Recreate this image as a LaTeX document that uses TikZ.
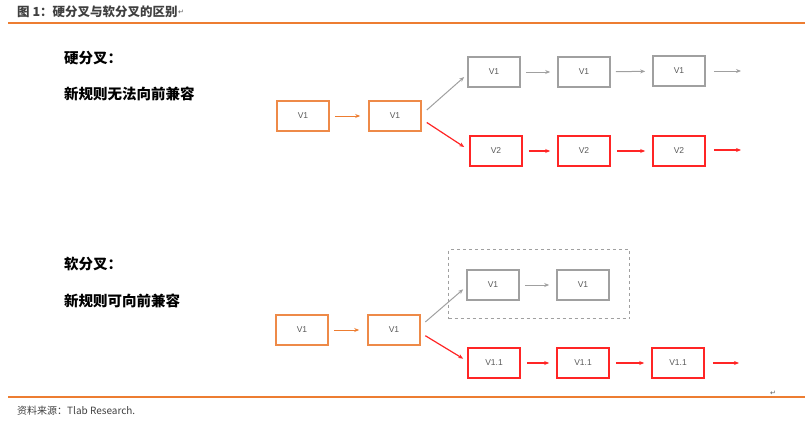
\documentclass[tikz,border=0pt]{standalone}
\usepackage{fontspec}
\setmainfont{Liberation Sans}
\newfontfamily\cjk{Noto Sans CJK SC}
\newfontfamily\symf{DejaVu Sans}
\usetikzlibrary{arrows.meta,calc}
\definecolor{orng}{HTML}{ED7D31}
\definecolor{boxorng}{HTML}{EE8A48}
\definecolor{redc}{HTML}{FF2525}
\definecolor{greyc}{HTML}{A0A0A0}
\definecolor{txt}{HTML}{595959}
\definecolor{ttl}{HTML}{404040}
\begin{document}
\begin{tikzpicture}[x=1pt,y=-1pt,
  vbox/.style={draw, line width=1.6pt, minimum width=52pt, minimum height=30pt, inner sep=0pt,
    font=\fontsize{8.5}{10}\selectfont, text=txt},
  obox/.style={vbox, draw=boxorng},
  gbox/.style={vbox, draw=greyc},
  rbox/.style={vbox, draw=redc},
  dashbox/.style={draw=greyc, dashed, line width=1pt, minimum width=181pt, minimum height=69pt, inner sep=0pt},
  oarr/.style={draw=orng, line width=1pt, -{Stealth[length=5pt,width=4pt]}, shorten <=5pt, shorten >=8pt},
  garr/.style={draw=greyc, line width=1pt, -{Stealth[length=5pt,width=4pt]}, shorten <=5pt, shorten >=7pt},
  rarr/.style={draw=redc, line width=1.2pt, -{Stealth[length=5pt,width=4pt]}, shorten <=6pt, shorten >=7pt},
  gdiag/.style={draw=greyc, line width=1pt, -{Stealth[length=5pt,width=4pt]}},
  rdiag/.style={draw=redc, line width=1.2pt, -{Stealth[length=5pt,width=4pt]}},
  head/.style={anchor=west, inner sep=0pt, font=\cjk\bfseries\fontsize{14.5}{16}\selectfont, text=black},
  rule/.style={draw=orng, line width=1.2pt},
  pmark/.style={inner sep=0pt, font=\symf\fontsize{7}{8}\selectfont, text=txt}
]
\useasboundingbox (0,0) rectangle (809,423);
% title and rules
\node[anchor=west, inner sep=0pt, font=\cjk\bfseries\fontsize{12.5}{14}\selectfont, text=ttl] (title) at (17,12) {图 1：硬分叉与软分叉的区别};
\node[pmark, anchor=west] (titlemark) at (title.east) {↵};
\coordinate (rl1) at (8,23);
\coordinate (rr1) at (805,23);
\draw[rule] (rl1) -- (rr1);
\coordinate (rl2) at (8,397);
\coordinate (rr2) at (805,397);
\draw[rule] (rl2) -- (rr2);
\node[pmark] (footmark) at (773,393) {↵};
\node[anchor=west, inner sep=0pt, font=\cjk\fontsize{10}{12}\selectfont, text=ttl] (foot) at (17,411) {资料来源：Tlab Research.};

% ---------- hard fork ----------
\node[head] (h1) at (64,58) {硬分叉：};
\node[head] (h2) at (64,93.5) {新规则无法向前兼容};

\node[obox] (oa) at (303,116) {V1};
\node[obox] (ob) at (395,116) {V1};
\node[gbox] (g1) at (494,72) {V1};
\node[gbox] (g2) at (584,72) {V1};
\node[gbox] (g3) at (679,71) {V1};
\coordinate (gend) at (741,71);
\node[rbox] (r1) at (496,151) {V2};
\node[rbox] (r2) at (584,151) {V2};
\node[rbox] (r3) at (679,151) {V2};
\coordinate (rend) at (741,150);

\draw[oarr] (oa) -- (ob);
\draw[gdiag] ($(ob.east)+(5,-6)$) -- ($(g1.west)+(-3,5)$);
\draw[rdiag] ($(ob.east)+(5,6.5)$) -- ($(r1.west)+(-5,-4)$);
\draw[garr] (g1) -- (g2);
\draw[garr] (g2) -- (g3);
\draw[garr, shorten >=0pt, shorten <=8pt] (g3.east) -- (gend);
\draw[rarr] (r1) -- (r2);
\draw[rarr] (r2) -- (r3);
\draw[rarr, shorten >=0pt, shorten <=8pt] (r3.east |- rend) -- (rend);

% ---------- soft fork ----------
\node[head] (s1) at (64,264.5) {软分叉：};
\node[head] (s2) at (64,301) {新规则可向前兼容};

\node[obox] (sa) at (302,330) {V1};
\node[obox] (sb) at (394,330) {V1};
\node[dashbox] (grp) at (539,284) {};
\node[gbox] (sg1) at (493,285) {V1};
\node[gbox] (sg2) at (583,285) {V1};
\node[rbox] (sr1) at (494,363) {V1.1};
\node[rbox] (sr2) at (583,363) {V1.1};
\node[rbox] (sr3) at (678,363) {V1.1};
\coordinate (send) at (739,363);

\draw[oarr] (sa) -- (sb);
\draw[gdiag] ($(sb.east)+(4.5,-8)$) -- ($(sg1.west)+(-3,4.3)$);
\draw[rdiag] ($(sb.east)+(4.5,5.7)$) -- ($(sr1.west)+(-4,-4.3)$);
\draw[garr] (sg1) -- (sg2);
\draw[rarr] (sr1) -- (sr2);
\draw[rarr] (sr2) -- (sr3);
\draw[rarr, shorten >=0pt, shorten <=8pt] (sr3.east |- send) -- (send);
\end{tikzpicture}
\end{document}
